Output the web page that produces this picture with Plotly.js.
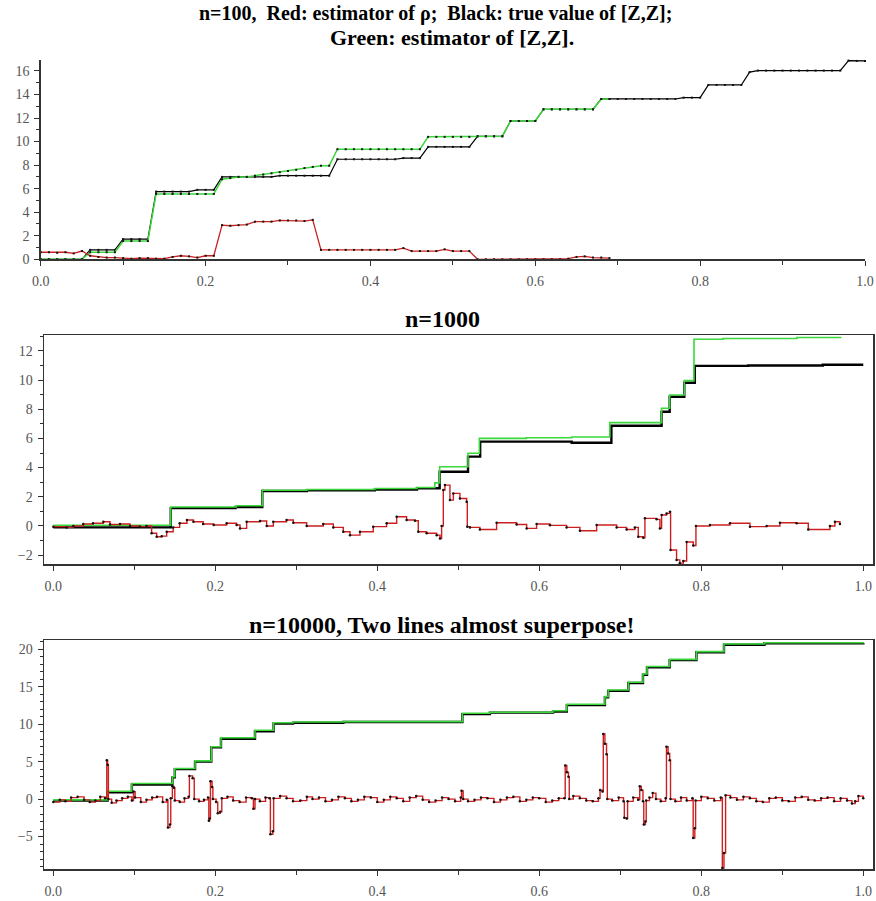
<!DOCTYPE html>
<html><head><meta charset="utf-8">
<script src="https://cdn.plot.ly/plotly-3.0.1.min.js"></script>
<style>html,body{margin:0;padding:0;background:#fff;}#chart{width:876px;height:901px;}</style>
</head><body><div id="chart"></div>
<script>
// ---------- Panel 1 (n=100) ----------
const p1_x = [0,0.01,0.02,0.03,0.04,0.05,0.06,0.07,0.08,0.09,0.10,0.11,0.12,0.13,0.14,0.15,0.16,0.17,0.18,0.19,
0.20,0.21,0.22,0.23,0.24,0.25,0.26,0.27,0.28,0.29,0.30,0.31,0.32,0.33,0.34,0.35,0.36,0.37,0.38,0.39,
0.40,0.41,0.42,0.43,0.44,0.45,0.46,0.47,0.48,0.49,0.50,0.51,0.52,0.53,0.54,0.55,0.56,0.57,0.58,0.59,
0.60,0.61,0.62,0.63,0.64,0.65,0.66,0.67,0.68,0.69,0.70,0.71,0.72,0.73,0.74,0.75,0.76,0.77,0.78,0.79,
0.80,0.81,0.82,0.83,0.84,0.85,0.86,0.87,0.88,0.89,0.90,0.91,0.92,0.93,0.94,0.95,0.96,0.97,0.98,0.99,1.00];
const p1_black = [0,0,0,0,0,0,0.8,0.8,0.8,0.8,1.72,1.72,1.72,1.72,5.75,5.75,5.75,5.75,5.75,5.9,
5.9,5.9,7.0,7.0,7.0,7.0,7.0,7.0,7.0,7.1,7.1,7.1,7.1,7.1,7.1,7.1,8.5,8.5,8.5,8.5,
8.5,8.5,8.5,8.5,8.6,8.6,8.6,9.55,9.55,9.55,9.55,9.55,9.55,10.45,10.45,10.45,10.45,11.75,11.75,11.75,
11.75,12.74,12.74,12.74,12.74,12.74,12.74,12.74,13.62,13.62,13.62,13.62,13.62,13.62,13.62,13.62,13.62,13.62,13.73,13.73,
13.73,14.81,14.81,14.81,14.81,14.81,15.9,16.03,16.03,16.03,16.03,16.03,16.03,16.03,16.03,16.03,16.03,16.03,16.88,16.85,16.85];
const p1_green = [0,0,0,0,0,0,0.6,0.6,0.6,0.6,1.55,1.55,1.55,1.55,5.55,5.55,5.55,5.55,5.55,5.55,
5.55,5.55,6.8,6.9,7.0,7.0,7.1,7.2,7.3,7.4,7.5,7.6,7.75,7.85,7.95,7.95,9.35,9.35,9.35,9.35,
9.35,9.35,9.35,9.35,9.35,9.35,9.35,10.4,10.4,10.4,10.4,10.4,10.4,10.45,10.45,10.45,10.45,11.75,11.75,11.75,
11.75,12.74,12.74,12.74,12.74,12.74,12.74,12.74,13.62,13.62];
const p1_red = [0.6,0.6,0.55,0.6,0.5,0.7,0.3,0.2,0.15,0.15,
0.1,0.05,0.1,0.1,0.05,0.05,0.2,0.3,0.25,0.15,
0.3,0.3,2.9,2.85,2.9,2.95,3.2,3.2,3.2,3.3,
3.3,3.3,3.25,3.35,0.8,0.8,0.8,0.8,0.8,0.8,
0.8,0.8,0.8,0.8,0.95,0.7,0.7,0.7,0.7,0.85,
0.7,0.7,0.7,0,0,0,0,0,0,0,
0,0,0,0,0.05,0.2,0.25,0.15,0.15,0.1];

// ---------- Panel 2 (n=1000) ----------
const p2_green_x = [0,0.145,0.226,0.258,0.313,0.397,0.449,0.471,0.477,0.512,0.526,0.584,0.640,0.687,0.751,0.761,0.779,0.791,0.827,0.918,0.973];
const p2_green_y = [0.05,1.3,1.38,2.45,2.5,2.57,2.64,2.95,4.06,4.98,6.0,6.05,6.1,7.08,8.07,8.98,9.96,12.8,12.85,12.92,12.92];
const p2_black_x = [0,0.145,0.225,0.258,0.313,0.397,0.449,0.477,0.512,0.527,0.640,0.689,0.751,0.761,0.779,0.792,0.858,0.95,1.0];
const p2_black_y = [-0.1,1.22,1.3,2.4,2.45,2.5,2.58,3.72,4.75,5.78,5.7,6.87,7.83,8.86,9.82,10.97,11.0,11.05,11.05];
const p2_red_x = [0.0,0.0165,0.0247,0.037,0.049,0.0618,0.070,0.0823,0.0947,0.107,0.115,0.1214,0.1276,0.1338,0.140,0.148,
0.156,0.165,0.173,0.185,0.198,0.214,0.2263,0.2305,0.2387,0.2552,0.2634,0.2716,0.288,0.2963,0.3128,0.3333,
0.3457,0.358,0.3663,0.3786,0.395,0.4115,0.4239,0.4362,0.4465,0.4506,0.4609,0.4733,0.4774,0.4794,0.4815,0.4835,
0.4897,0.4939,0.502,0.5103,0.5111,0.5144,0.5267,0.5473,0.572,0.5844,0.5967,0.6132,0.6337,0.6502,0.6708,0.6955,
0.7078,0.718,0.7222,0.7284,0.7304,0.7448,0.7489,0.751,0.7572,0.7613,0.7621,0.7695,0.7735,0.7778,0.7819,0.7901,
0.7934,0.8107,0.8354,0.8601,0.8807,0.8971,0.9177,0.9321,0.9588,0.965,0.9712];
const p2_red_y = [-0.05,-0.1,0.0,0.13,0.18,0.29,0.1,0.13,0.0,-0.05,0.0,-0.5,-0.74,-0.7,-0.4,-0.1,
0.18,0.41,0.29,0.13,0.06,0.18,0.06,-0.17,0.29,0.34,0.0,0.29,0.41,0.22,0.0,0.13,
-0.1,-0.4,-0.63,-0.4,-0.05,0.18,0.63,0.41,0.36,-0.4,-0.5,-0.63,-0.86,0.0,2.46,2.8,
1.77,2.23,1.88,1.66,-0.05,-0.1,-0.24,0.22,0.1,-0.17,0.13,0.04,-0.1,-0.33,0.06,-0.1,
-0.24,-0.1,-0.74,-0.81,0.52,0.45,-0.17,0.75,0.86,0.98,-1.65,-2.33,-2.55,-2.4,-1.1,-1.34,
0.0,0.06,0.18,-0.05,0.0,0.22,0.18,-0.24,0.0,0.29,0.13];

// ---------- Panel 3 (n=10000) ----------
const p3_green_x = [0,0.067,0.097,0.147,0.150,0.175,0.195,0.207,0.249,0.272,0.296,0.358,0.505,0.539,0.617,0.634,0.681,0.685,0.710,0.728,0.733,0.761,0.794,0.828,0.878,1.0];
const p3_green_y = [-0.1,1.04,2.09,2.98,4.09,5.1,6.98,8.2,9.2,10.2,10.3,10.35,11.46,11.6,11.8,12.66,13.68,14.57,15.6,16.7,17.7,18.66,19.69,20.71,20.88,20.9];
const p3_black_y = [-0.2,0.9,1.95,2.9,4.0,5.0,6.9,8.05,9.05,10.1,10.2,10.3,11.35,11.55,11.7,12.55,13.6,14.45,15.5,16.6,17.6,18.55,19.6,20.6,20.8,20.85];
const p3_red_x = [0.000,0.008,0.015,0.022,0.030,0.038,0.045,0.052,0.058,0.064,0.066,0.067,0.068,0.072,0.078,0.085,0.092,0.097,0.099,0.101,
0.108,0.115,0.122,0.128,0.135,0.140,0.1415,0.144,0.145,0.147,0.149,0.150,0.156,0.162,0.167,0.168,0.172,0.174,0.180,0.186,
0.191,0.192,0.193,0.194,0.196,0.197,0.201,0.203,0.206,0.208,0.215,0.222,0.230,0.238,0.245,0.247,0.249,0.255,0.262,0.267,
0.268,0.271,0.272,0.280,0.288,0.296,0.305,0.313,0.320,0.328,0.336,0.344,0.352,0.360,0.368,0.376,0.384,0.392,0.400,0.408,
0.416,0.424,0.432,0.440,0.448,0.456,0.464,0.472,0.480,0.488,0.496,0.503,0.504,0.506,0.512,0.520,0.528,0.536,0.544,0.552,
0.560,0.568,0.576,0.584,0.592,0.600,0.608,0.616,0.624,0.631,0.632,0.634,0.636,0.637,0.642,0.650,0.658,0.666,0.673,0.675,
0.678,0.679,0.681,0.683,0.684,0.690,0.698,0.704,0.705,0.708,0.709,0.716,0.722,0.724,0.726,0.728,0.729,0.731,0.732,0.736,
0.740,0.744,0.750,0.756,0.757,0.759,0.761,0.762,0.768,0.775,0.782,0.789,0.790,0.792,0.793,0.800,0.808,0.816,0.824,0.826,
0.828,0.830,0.836,0.844,0.852,0.860,0.868,0.876,0.884,0.892,0.900,0.908,0.916,0.924,0.932,0.940,0.948,0.956,0.964,0.972,
0.980,0.986,0.990,0.994,1.000];
const p3_red_y = [-0.4,-0.1,-0.3,0.2,0.3,-0.1,-0.4,-0.2,0.3,0.1,5.2,4.6,0.0,-0.5,-0.2,0.1,0.3,-0.2,1.0,0.2,
-0.4,-0.1,0.2,0.3,-0.4,-0.1,-3.8,-3.4,0.1,1.7,1.5,-0.2,-0.4,0.1,0.3,3.1,2.8,0.0,-0.3,-0.1,
0.2,-2.9,-2.6,2.4,1.6,0.0,-0.4,-1.9,-1.7,0.1,0.3,-0.2,-0.4,0.2,0.1,-1.3,0.0,-0.3,0.2,0.1,
-4.7,-4.3,0.1,0.4,0.1,-0.3,-0.2,0.3,0.0,0.2,-0.3,-0.1,0.3,0.1,-0.3,-0.1,0.3,0.2,-0.4,-0.1,
0.3,0.1,-0.3,0.2,0.4,-0.1,-0.4,-0.2,0.2,0.0,-0.3,0.2,1.1,0.0,-0.3,-0.1,0.2,0.1,-0.4,-0.1,
0.2,0.3,-0.3,-0.1,0.2,0.1,-0.4,-0.2,0.1,0.1,4.5,3.6,3.0,0.0,0.4,0.1,-0.2,-0.3,0.1,1.2,
1.0,8.7,7.4,6.0,0.0,-0.2,0.2,-0.3,-2.5,-2.6,-0.3,0.2,-0.1,1.7,1.2,-0.3,-3.4,-3.0,-0.2,0.2,
0.8,0.0,-0.3,0.1,7.0,6.1,5.2,0.0,-0.3,0.2,-0.2,0.1,-5.2,-3.9,-0.2,0.3,0.1,-0.2,0.2,-9.2,
-7.2,0.5,0.2,-0.1,0.3,0.1,-0.3,-0.4,0.1,0.2,-0.2,-0.3,0.2,0.3,-0.1,-0.2,0.1,0.2,-0.3,0.1,
-0.2,-0.6,-0.3,0.4,0.1];

// ---------- Titles ----------
const titles = [
  "n=100,  Red: estimator of ρ;  Black: true value of [Z,Z];",
  "Green: estimator of [Z,Z].",
  "n=1000",
  "n=10000, Two lines almost superpose!"
];

const GREEN = '#3ad83a', RED = '#cc1f1f', BLACK = '#000000', DOT = '#111111';
const W = 876, H = 901;
const px = v => v / W;
const py = v => 1 - v / H;

const traces = [
  {x: p1_x, y: p1_black, xaxis:'x', yaxis:'y', mode:'lines+markers', line:{color:BLACK, width:1.2}, marker:{color:DOT, size:2, symbol:'square'}, cliponaxis:false},
  {x: p1_x.slice(0, p1_green.length), y: p1_green, xaxis:'x', yaxis:'y', mode:'lines+markers', line:{color:GREEN, width:1.5}, marker:{color:DOT, size:2, symbol:'square'}, cliponaxis:false},
  {x: p1_x.slice(0, p1_red.length), y: p1_red, xaxis:'x', yaxis:'y', mode:'lines+markers', line:{color:RED, width:1.3}, marker:{color:DOT, size:2, symbol:'square'}, cliponaxis:false},

  {x: p2_black_x, y: p2_black_y, xaxis:'x2', yaxis:'y2', mode:'lines', line:{color:BLACK, width:2.4, shape:'hv'}},
  {x: p2_green_x, y: p2_green_y, xaxis:'x2', yaxis:'y2', mode:'lines', line:{color:GREEN, width:1.6, shape:'hv'}},
  {x: p2_red_x, y: p2_red_y, xaxis:'x2', yaxis:'y2', mode:'lines+markers', line:{color:RED, width:1.4, shape:'hv'}, marker:{color:DOT, size:2.5}},

  {x: p3_green_x, y: p3_black_y, xaxis:'x3', yaxis:'y3', mode:'lines', line:{color:BLACK, width:2.4, shape:'hv'}},
  {x: p3_green_x, y: p3_green_y, xaxis:'x3', yaxis:'y3', mode:'lines', line:{color:GREEN, width:1.6, shape:'hv'}},
  {x: p3_red_x, y: p3_red_y, xaxis:'x3', yaxis:'y3', mode:'lines+markers', line:{color:RED, width:1.4, shape:'hv'}, marker:{color:DOT, size:2.5}}
];

const tickFont = {family:'"Liberation Serif", "Times New Roman", serif', size:14, color:'#555'};
const AX = '#333';
function xax(domain, anchor, range, box) {
  return {domain, anchor, range, showgrid:false, zeroline:false, showline:true, linecolor:AX, linewidth:1.5,
    mirror: box ? true : false, ticks:'outside', ticklen:5, tickwidth:1, tickcolor:AX,
    tick0:0, dtick:0.2, tickformat:'.1f', tickfont:tickFont, ticklabelstandoff:3,
    minor:{dtick:0.1, ticks:'outside', ticklen:4, tickcolor:AX, showgrid:false}, fixedrange:true};
}
function yax(domain, anchor, range, dtick, box) {
  return {domain, anchor, range, showgrid:false, zeroline:false, showline:true, linecolor:AX, linewidth:1.5,
    mirror: box ? true : false, ticks:'outside', ticklen:5, tickwidth:1, tickcolor:AX,
    tick0:0, dtick:dtick, tickfont:tickFont, ticklabelstandoff:2,
    minor:{dtick:1, ticks:'outside', ticklen:3, tickcolor:AX, showgrid:false}, fixedrange:true};
}

const serif = '"Liberation Serif", "Times New Roman", serif';
const layout = {
  width:W, height:H, margin:{l:0,r:0,t:0,b:0}, paper_bgcolor:'#fff', plot_bgcolor:'#fff', showlegend:false,
  xaxis:  xax([px(40.7), px(865)], 'y', [0, 1], false),
  yaxis:  yax([py(259.3), py(60)], 'x', [0, 16.93], 2, false),
  xaxis2: xax([px(44), px(873)], 'y2', [-0.0115, 1.012], true),
  yaxis2: yax([py(564.3), py(335)], 'x2', [-2.63, 13.09], 2, true),
  xaxis3: xax([px(44), px(873)], 'y3', [-0.0115, 1.012], true),
  yaxis3: yax([py(869.3), py(640)], 'x3', [-9.37, 21.24], 5, true),
  annotations: [
    {text:'<b>'+titles[0]+'</b>', x:px(435), y:py(14), xref:'paper', yref:'paper', xanchor:'center', yanchor:'middle', showarrow:false, font:{family:serif, size:20, color:'#000'}},
    {text:'<b>'+titles[1]+'</b>', x:px(452), y:py(37), xref:'paper', yref:'paper', xanchor:'center', yanchor:'middle', showarrow:false, font:{family:serif, size:22, color:'#000'}},
    {text:'<b>'+titles[2]+'</b>', x:px(442), y:py(319), xref:'paper', yref:'paper', xanchor:'center', yanchor:'middle', showarrow:false, font:{family:serif, size:24, color:'#000'}},
    {text:'<b>'+titles[3]+'</b>', x:px(442), y:py(625), xref:'paper', yref:'paper', xanchor:'center', yanchor:'middle', showarrow:false, font:{family:serif, size:24, color:'#000'}}
  ]
};

Plotly.newPlot('chart', traces, layout, {staticPlot:true, displayModeBar:false});
</script>
</body></html>
